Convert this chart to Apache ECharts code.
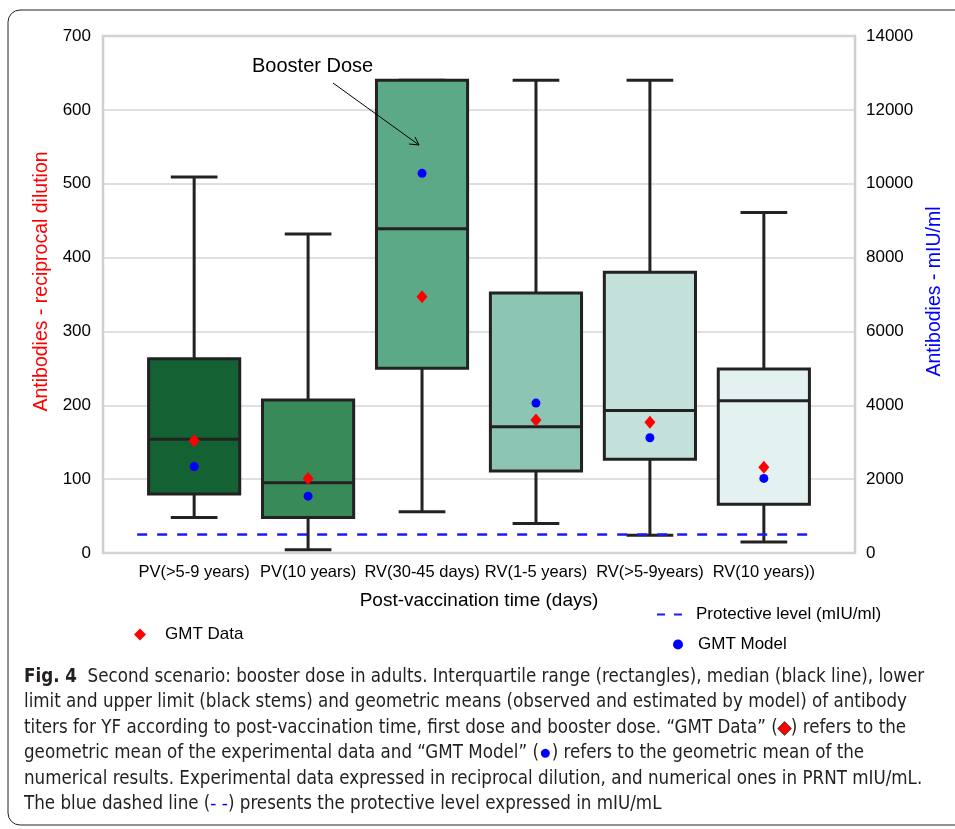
<!DOCTYPE html>
<html>
<head>
<meta charset="utf-8">
<title>Fig. 4 - booster dose in adults</title>
<script src="https://cdn.jsdelivr.net/npm/echarts@6/dist/echarts.min.js"></script>
<style>
  html, body { margin: 0; padding: 0; background: #fff; }
  #chart { width: 955px; height: 829px; }
</style>
</head>
<body>
<div id="chart"></div>
<script>
// groups on the x axis
var categories = ['PV(>5-9 years)', 'PV(10 years)', 'RV(30-45 days)', 'RV(1-5 years)', 'RV(>5-9years)', 'RV(10 years))'];
// box statistics, reciprocal dilution (left axis)
var whiskerLow  = [48, 4.5, 56, 40, 24, 15];
var quart1      = [80, 48, 250, 111, 127, 66];
var median      = [154, 95, 439, 171, 193, 206];
var quart3      = [263, 207, 640, 352, 380, 249];
var whiskerHigh = [509, 432, 640, 640, 640, 461];
// geometric means
var gmtData  = [152, 101, 347, 180, 177, 116];          // reciprocal dilution
var gmtModel = [2340, 1540, 10280, 4060, 3120, 2020];   // mIU/ml (right axis)
// protective level in mIU/ml, drawn from first to last group
var protectiveLevel = 500;
var protectiveFrom = -0.5, protectiveTo = 5.45;

var boxColors = ['#146133', '#398a59', '#5ca987', '#8cc5b3', '#c3e1da', '#e3f1f1'];
var font = '"Liberation Sans", Arial, sans-serif';
var captionFont = '"Liberation Sans Narrow", "DejaVu Sans Condensed", sans-serif';

var boxRows = categories.map(function (c, i) {
  return [i, whiskerLow[i], quart1[i], median[i], quart3[i], whiskerHigh[i]];
});

function renderBox(params, api) {
  var x = api.value(0);
  var lo = api.coord([x, api.value(1)]);
  var q1 = api.coord([x, api.value(2)]);
  var md = api.coord([x, api.value(3)]);
  var q3 = api.coord([x, api.value(4)]);
  var hi = api.coord([x, api.value(5)]);
  var unit = api.size([1, 0])[0];
  var bw = unit * 0.8, cw = unit * 0.41;
  var cx = lo[0];
  var ls = { stroke: '#222', lineWidth: 3 };
  return {
    type: 'group',
    children: [
      { type: 'line', shape: { x1: cx, y1: hi[1], x2: cx, y2: q3[1] }, style: ls },
      { type: 'line', shape: { x1: cx, y1: q1[1], x2: cx, y2: lo[1] }, style: ls },
      { type: 'line', shape: { x1: cx - cw / 2, y1: hi[1], x2: cx + cw / 2, y2: hi[1] }, style: ls },
      { type: 'line', shape: { x1: cx - cw / 2, y1: lo[1], x2: cx + cw / 2, y2: lo[1] }, style: ls },
      { type: 'rect', shape: { x: cx - bw / 2, y: q3[1], width: bw, height: q1[1] - q3[1] },
        style: { fill: boxColors[params.dataIndex], stroke: '#222', lineWidth: 3 } },
      { type: 'line', shape: { x1: cx - bw / 2, y1: md[1], x2: cx + bw / 2, y2: md[1] }, style: ls }
    ]
  };
}

var captionLines = [
  '{b|Fig. 4}  Second scenario: booster dose in adults. Interquartile range (rectangles), median (black line), lower',
  'limit and upper limit (black stems) and geometric means (observed and estimated by model) of antibody',
  'titers for YF according to post-vaccination time, first dose and booster dose. \u201cGMT Data\u201d ({dia|\u25c6}) refers to the',
  'geometric mean of the experimental data and \u201cGMT Model\u201d ({dot|\u25cf}) refers to the geometric mean of the',
  'numerical results. Experimental data expressed in reciprocal dilution, and numerical ones in PRNT mIU/mL.',
  'The blue dashed line ({dash|- -}) presents the protective level expressed in mIU/mL'
];

var captionGraphics = captionLines.map(function (t, i) {
  return {
    type: 'text', left: 24, top: 666 + i * 25.5, z: 100,
    style: {
      text: t, font: '18.6px ' + captionFont, fill: '#231f20', lineHeight: 22,
      rich: {
        b: { fontWeight: 'bold', fontSize: 18.6, fontFamily: captionFont, fill: '#231f20', lineHeight: 22 },
        dia: { fill: '#ff0000', stroke: '#000', lineWidth: 1, fontSize: 17, lineHeight: 22 },
        dot: { fill: '#0000ff', fontSize: 21, lineHeight: 22 },
        dash: { fill: '#0000ff', fontSize: 18.6, lineHeight: 22 }
      }
    }
  };
});

var chart = echarts.init(document.getElementById('chart'));
chart.setOption({
  backgroundColor: '#fff',
  animation: false,
  textStyle: { fontFamily: font },
  grid: { left: 103, right: 100, top: 36, bottom: 276, show: true, borderColor: '#cfcfcf', borderWidth: 2.5 },
  xAxis: {
    type: 'value', min: -0.8, max: 5.8,
    name: 'Post-vaccination time (days)', nameLocation: 'middle', nameGap: 38,
    nameTextStyle: { fontSize: 19, color: '#000', fontFamily: font },
    axisLine: { show: false }, axisTick: { show: false }, splitLine: { show: false },
    axisLabel: {
      customValues: [0, 1, 2, 3, 4, 5], hideOverlap: false,
      formatter: function (v) { return categories[Math.round(v)]; },
      fontSize: 16.5, color: '#000', margin: 11
    }
  },
  yAxis: [{
    type: 'value', min: 0, max: 700, interval: 100, position: 'left',
    name: 'Antibodies - reciprocal dilution', nameLocation: 'middle', nameGap: 49,
    nameTextStyle: { fontSize: 19.5, color: '#ff0000', padding: [0, 0, 0, 26] },
    axisLine: { show: false }, axisTick: { show: false },
    axisLabel: { fontSize: 17, color: '#000', margin: 12 },
    splitLine: { lineStyle: { color: '#d4d4d4', width: 1.5 } }
  }, {
    type: 'value', min: 0, max: 14000, interval: 2000, position: 'right',
    name: 'Antibodies - mIU/ml', nameLocation: 'middle', nameGap: 63,
    nameTextStyle: { fontSize: 19.5, color: '#0000ff', padding: [0, 0, 0, 6] },
    axisLine: { show: false }, axisTick: { show: false },
    axisLabel: { fontSize: 17, color: '#000', margin: 11, formatter: function (v) { return String(v); } },
    splitLine: { show: false }
  }],
  legend: [{
    data: ['GMT Data'], left: 129, top: 621, icon: 'diamond', itemWidth: 12, itemHeight: 12,
    textStyle: { fontSize: 17, color: '#000', padding: [0, 0, 0, 14] }
  }, {
    data: ['Protective level (mIU/ml)'], left: 652, top: 601, itemWidth: 25, itemHeight: 2,
    icon: 'path://M0,0H8V2H0Z M17,0H25V2H17Z',
    textStyle: { fontSize: 17, color: '#000', padding: [0, 0, 0, 9] }
  }, {
    data: ['GMT Model'], left: 668, top: 631, icon: 'circle', itemWidth: 10, itemHeight: 10,
    textStyle: { fontSize: 17, color: '#000', padding: [0, 0, 0, 10] }
  }],
  graphic: [
    { type: 'rect', shape: { x: 8, y: 10, width: 1000, height: 815, r: 12 }, z: 100,
      style: { fill: 'none', stroke: '#222', lineWidth: 1 }, silent: true },
    { type: 'text', left: 252, top: 56, z: 100, style: { text: 'Booster Dose', font: '20px ' + font, fill: '#000' } },
    { type: 'line', z: 100, shape: { x1: 333, y1: 83, x2: 419, y2: 145 }, style: { stroke: '#000', lineWidth: 1 } },
    { type: 'polyline', z: 100, shape: { points: [[409, 144], [419, 145], [415, 137]] }, style: { stroke: '#000', lineWidth: 1, fill: 'none' } }
  ].concat(captionGraphics),
  series: [{
    type: 'custom', name: 'boxes', renderItem: renderBox,
    encode: { x: 0, y: [1, 2, 3, 4, 5] }, data: boxRows, z: 2
  }, {
    type: 'line', name: 'Protective level (mIU/ml)', yAxisIndex: 1,
    data: [[protectiveFrom, protectiveLevel], [protectiveTo, protectiveLevel]],
    symbol: 'none', color: '#1a1aff',
    lineStyle: { color: '#1a1aff', width: 2.5, type: [10, 10] }, z: 3
  }, {
    type: 'scatter', name: 'GMT Data', symbol: 'diamond', symbolSize: [11, 13],
    data: gmtData.map(function (v, i) { return [i, v]; }),
    itemStyle: { color: '#ff0000', opacity: 1 }, z: 4
  }, {
    type: 'scatter', name: 'GMT Model', yAxisIndex: 1, symbol: 'circle', symbolSize: 9,
    data: gmtModel.map(function (v, i) { return [i, v]; }),
    itemStyle: { color: '#0000ff', opacity: 1 }, z: 4
  }]
});
</script>
</body>
</html>
